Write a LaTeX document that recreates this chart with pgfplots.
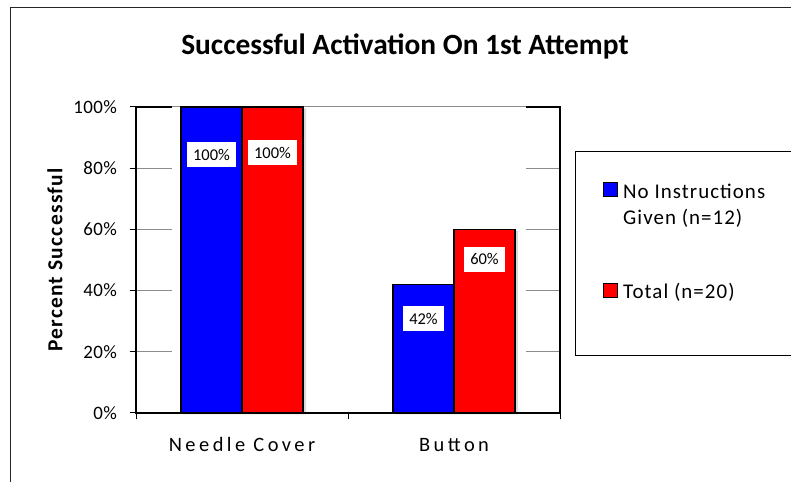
\documentclass[border=0pt]{standalone}
\usepackage{pgfplots}
\pgfplotsset{compat=1.18}
\usepackage{fontspec}
\setmainfont{Carlito}
\definecolor{gridgray}{RGB}{140,140,140}
\begin{document}
\begin{tikzpicture}[x=1bp,y=1bp]
% chart frame
\draw[line width=1bp, black!85] (10,-5) -- (10,474) -- (800,474);
% title
\node[anchor=base, inner sep=0pt, font=\bfseries\fontsize{29.5}{34}\selectfont] at (405,427) {Successful Activation On 1st Attempt};
\begin{axis}[
  at={(136bp,69bp)}, anchor=south west,
  scale only axis, width=424bp, height=306bp,
  xmin=-0.5, xmax=1.5, ymin=0, ymax=100,
  axis line style={draw=none},
  xtick={-0.5,0.5,1.5}, xticklabels={},
  ytick={0,20,40,60,80,100},
  yticklabels={0\%,20\%,40\%,60\%,80\%,100\%},
  xtick pos=bottom, ytick pos=left,
  tick align=outside,
  major tick length=6.5bp,
  tick style={black, line width=1bp},
  yticklabel style={font=\fontsize{19}{21}\selectfont\addfontfeature{LetterSpace=2}, text=black, inner sep=0pt, xshift=-12.5bp},
  ylabel={Percent Successful},
  ylabel style={font=\bfseries\fontsize{21.5}{24}\selectfont\addfontfeature{LetterSpace=6}, at={(axis description cs:-0.191,0.5)}, anchor=center},
  ybar, bar width=61bp,
  clip=false,
]
% gridlines (visible only at the sides of the plot area)
\pgfplotsinvokeforeach{20,40,60,80}{
  \draw[gridgray, line width=1bp] (axis cs:-0.5,#1) -- ([xshift=36bp]axis cs:-0.5,#1);
  \draw[gridgray, line width=1bp] ([xshift=-34bp]axis cs:1.5,#1) -- (axis cs:1.5,#1);
}
\draw[gridgray, line width=1bp] ([xshift=36bp]axis cs:-0.5,100) -- ([xshift=-34bp]axis cs:1.5,100);

\addplot[fill=blue, draw=black, line width=1.2bp, bar shift=-30.5bp,
  preaction={fill=black!15, draw=none, transform canvas={shift={(3bp,-1.5bp)}}}]
  coordinates {(0,100) (1,42)};
\addplot[fill=red, draw=black, line width=1.2bp, bar shift=30.5bp,
  preaction={fill=black!15, draw=none, transform canvas={shift={(3bp,-1.5bp)}}}]
  coordinates {(0,100) (1,60)};

% plot area border
\draw[black, line width=1.5bp] ([xshift=36bp]axis cs:-0.5,100) -- (axis cs:-0.5,100) -- (axis cs:-0.5,0) -- (axis cs:1.5,0) -- (axis cs:1.5,100) -- ([xshift=-34bp]axis cs:1.5,100);

% value labels
\tikzset{vlab/.style={fill=white, inner xsep=6bp, inner ysep=0pt, minimum height=25bp, text=black, font=\fontsize{16.5}{18}\selectfont}}
\node[vlab] at ([xshift=-30.5bp,yshift=-48bp]axis cs:0,100) {100\%};
\node[vlab] at ([xshift=30.5bp,yshift=-46bp]axis cs:0,100) {100\%};
\node[vlab] at ([xshift=-30.5bp,yshift=-34bp]axis cs:1,42) {42\%};
\node[vlab] at ([xshift=30.5bp,yshift=-30bp]axis cs:1,60) {60\%};

% category names
\node[anchor=base, inner sep=0pt, font=\fontsize{20.5}{23}\selectfont\addfontfeature{LetterSpace=17}] at ([yshift=-39bp]axis cs:0,0) {Needle Cover};
\node[anchor=base, inner sep=0pt, font=\fontsize{20.5}{23}\selectfont\addfontfeature{LetterSpace=17}] at ([yshift=-39bp]axis cs:1,0) {Button};
\end{axis}
% legend
\tikzset{ltext/.style={anchor=base west, inner sep=0pt, font=\fontsize{21}{24}\selectfont\addfontfeature{LetterSpace=5}}}
\draw[black, line width=1bp] (575,126) rectangle (820,330);
\draw[fill=blue, draw=black, line width=0.9bp] (603,285.5) rectangle (617,299.5);
\node[ltext] at (623,283.7) {No Instructions};
\node[ltext] at (623,257.5) {Given (n=12)};
\draw[fill=red, draw=black, line width=0.9bp] (603,185) rectangle (617,199);
\node[ltext] at (623,183) {Total (n=20)};
\pgfresetboundingbox
\useasboundingbox (0,0) rectangle (791,482);
\end{tikzpicture}
\end{document}
